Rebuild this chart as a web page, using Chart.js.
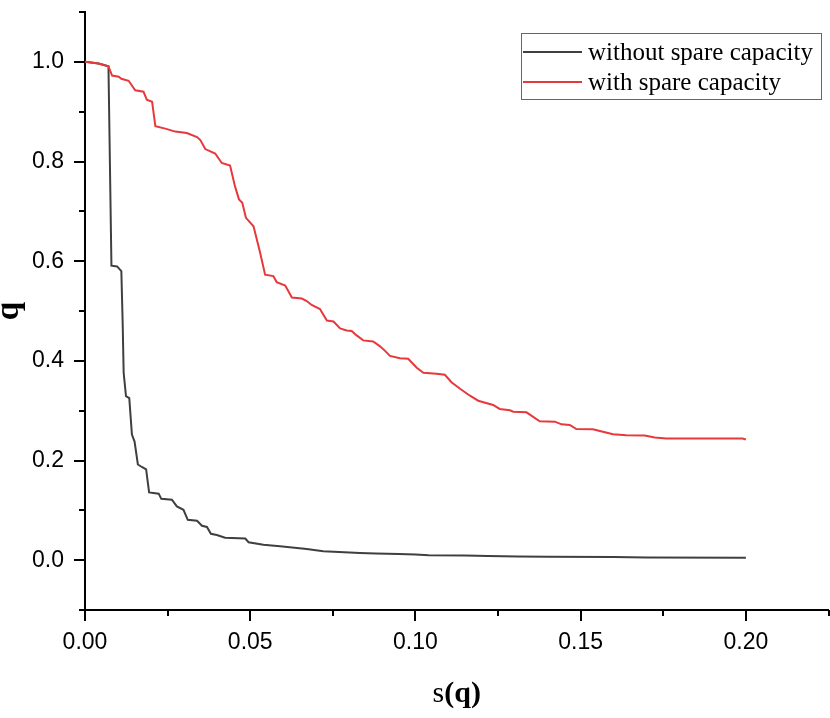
<!DOCTYPE html>
<html>
<head>
<meta charset="utf-8">
<script src="https://cdn.jsdelivr.net/npm/chart.js@4/dist/chart.umd.min.js"></script>
<style>
  html, body { margin: 0; padding: 0; background: #fff; }
  #wrap { position: relative; width: 830px; height: 718px; }
</style>
</head>
<body>
<div id="wrap"><canvas id="grafico"></canvas></div>
<script>
// series labels
const seriesNames = ['without spare capacity', 'with spare capacity'];

// without spare capacity: s(q) and q
const sWithout = [0, 0.0041, 0.0071, 0.0080, 0.0097, 0.0110, 0.0114, 0.0117, 0.0124, 0.0134,
  0.0142, 0.0150, 0.0160, 0.0172, 0.0185, 0.0194, 0.0223, 0.0231, 0.0263, 0.0278,
  0.0298, 0.0311, 0.0339, 0.0354, 0.0369, 0.0381, 0.0399, 0.0424, 0.0485, 0.0495,
  0.0540, 0.0590, 0.0671, 0.0721, 0.0832, 0.0880, 0.0950, 0.1000, 0.1040, 0.1150,
  0.1220, 0.1310, 0.1400, 0.1600, 0.1700, 0.2000];
const qWithout = [1.0, 0.9966, 0.991, 0.591, 0.5895, 0.580, 0.476, 0.376, 0.329, 0.325,
  0.252, 0.238, 0.192, 0.187, 0.182, 0.136, 0.1335, 0.123, 0.1214, 0.108,
  0.101, 0.081, 0.079, 0.069, 0.0666, 0.053, 0.0506, 0.045, 0.0435, 0.036,
  0.031, 0.0277, 0.0224, 0.0177, 0.0144, 0.0135, 0.0125, 0.0115, 0.0100, 0.0095,
  0.0085, 0.0075, 0.0070, 0.0065, 0.0055, 0.0050];

// with spare capacity: s(q) and q
const sWith = [0, 0.0041, 0.0071, 0.0082, 0.0102, 0.0110, 0.0132, 0.0152, 0.0177, 0.0187,
  0.0203, 0.0213, 0.0243, 0.0273, 0.0308, 0.0339, 0.0349, 0.0364, 0.0394, 0.0414,
  0.0439, 0.0454, 0.0466, 0.0476, 0.0487, 0.0510, 0.0530, 0.0545, 0.0570, 0.0580,
  0.0606, 0.0626, 0.0656, 0.0671, 0.0686, 0.0711, 0.0732, 0.0752, 0.0772, 0.0792,
  0.0807, 0.0822, 0.0842, 0.0872, 0.0893, 0.0908, 0.0923, 0.0953, 0.0978, 0.1004,
  0.1024, 0.1064, 0.1089, 0.1109, 0.1135, 0.1165, 0.1190, 0.1235, 0.1255, 0.1286,
  0.1296, 0.1336, 0.1376, 0.1422, 0.1442, 0.1467, 0.1487, 0.1537, 0.1558, 0.1598,
  0.1638, 0.1694, 0.1724, 0.1759, 0.1990, 0.2000];
const qWith = [1.0, 0.9966, 0.991, 0.9725, 0.970, 0.966, 0.962, 0.943, 0.940, 0.924,
  0.920, 0.871, 0.866, 0.860, 0.857, 0.849, 0.843, 0.825, 0.816, 0.797,
  0.792, 0.750, 0.724, 0.717, 0.687, 0.670, 0.617, 0.573, 0.570, 0.558,
  0.551, 0.527, 0.525, 0.520, 0.512, 0.504, 0.481, 0.479, 0.465, 0.461,
  0.460, 0.451, 0.441, 0.439, 0.429, 0.420, 0.410, 0.405, 0.404, 0.386,
  0.376, 0.374, 0.372, 0.357, 0.344, 0.330, 0.320, 0.3115, 0.3035, 0.3007,
  0.298, 0.2967, 0.2786, 0.278, 0.2726, 0.2714, 0.263, 0.2625, 0.2593, 0.2525,
  0.2505, 0.250, 0.246, 0.244, 0.244, 0.242];

const colorNegro = '#3f3f3f';
const colorRojo = '#e8383b';

function puntos(xs, ys) {
  return xs.map((x, i) => ({ x: x, y: ys[i] }));
}

const fuenteTicks = { family: 'Arial, "Liberation Sans", sans-serif', size: 23 };
const fuenteSerif = 'Times New Roman, "Liberation Serif", serif';

// ticks drawn by hand so major and minor can have different lengths
const marcasEjes = {
  id: 'marcasEjes',
  afterDraw(chart) {
    const ctx = chart.ctx;
    const area = chart.chartArea;
    const sx = chart.scales.x, sy = chart.scales.y;
    ctx.save();
    ctx.strokeStyle = '#000';
    ctx.lineWidth = 2;
    ctx.beginPath();
    sx.ticks.forEach(t => {
      const px = Math.round(sx.getPixelForValue(t.value));
      const mayor = Math.round(t.value * 1000) % 50 === 0;
      ctx.moveTo(px, area.bottom);
      ctx.lineTo(px, area.bottom + (mayor ? 11 : 6));
    });
    sy.ticks.forEach(t => {
      const py = Math.round(sy.getPixelForValue(t.value));
      const mayor = Math.round(t.value * 10) % 2 === 0;
      ctx.moveTo(area.left, py);
      ctx.lineTo(area.left - (mayor ? 11 : 6), py);
    });
    ctx.stroke();

    // x title: s(q) with bold q
    const partes = [
      { t: 's', f: 'normal 30px ' + fuenteSerif },
      { t: '(q)', f: 'bold 30px ' + fuenteSerif }
    ];
    let ancho = 0;
    partes.forEach(p => { ctx.font = p.f; p.w = ctx.measureText(p.t).width; ancho += p.w; });
    let x = (area.left + area.right) / 2 - ancho / 2;
    ctx.fillStyle = '#000';
    ctx.textBaseline = 'alphabetic';
    ctx.textAlign = 'left';
    partes.forEach(p => { ctx.font = p.f; ctx.fillText(p.t, x, 702); x += p.w; });

    // legend box
    const lx = 521, ly = 33, lw = 300, lh = 66;
    ctx.lineWidth = 1;
    ctx.strokeStyle = '#666';
    ctx.strokeRect(lx + 0.5, ly + 0.5, lw, lh);
    ctx.font = '25px ' + fuenteSerif;
    ctx.textBaseline = 'middle';
    chart.data.datasets.forEach((ds, i) => {
      const yy = 52 + i * 30;
      ctx.strokeStyle = ds.borderColor;
      ctx.lineWidth = 2;
      ctx.beginPath();
      ctx.moveTo(523, yy);
      ctx.lineTo(582, yy);
      ctx.stroke();
      ctx.fillStyle = '#000';
      ctx.fillText(ds.label, 588, yy + 1);
    });
    ctx.restore();
  }
};

const config = {
  type: 'line',
  data: {
    datasets: [
      {
        label: seriesNames[0],
        data: puntos(sWithout, qWithout),
        borderColor: colorNegro,
        backgroundColor: colorNegro,
        borderWidth: 2,
        pointRadius: 0,
        tension: 0,
        order: 2
      },
      {
        label: seriesNames[1],
        data: puntos(sWith, qWith),
        borderColor: colorRojo,
        backgroundColor: colorRojo,
        borderWidth: 2,
        pointRadius: 0,
        tension: 0,
        order: 1
      }
    ]
  },
  options: {
    responsive: true,
    maintainAspectRatio: false,
    animation: false,
    layout: { padding: { top: 12, right: 1.5, left: 0, bottom: 0 } },
    plugins: {
      legend: { display: false },
      tooltip: { enabled: false }
    },
    scales: {
      x: {
        type: 'linear',
        min: 0,
        max: 0.225,
        afterFit: s => { s.height = 108; s.paddingLeft = 0; s.paddingRight = 0; },
        border: { display: true, color: '#000', width: 2 },
        grid: { display: true, drawOnChartArea: false, drawTicks: true, tickLength: 11, tickColor: 'rgba(0,0,0,0)' },
        ticks: {
          stepSize: 0.025,
          autoSkip: false,
          maxRotation: 0,
          padding: 8,
          color: '#000',
          font: fuenteTicks,
          callback: v => (Math.round(v * 1000) % 50 === 0 ? v.toFixed(2) : '')
        },
        title: { display: false }
      },
      y: {
        type: 'linear',
        min: -0.1,
        max: 1.1,
        afterFit: s => { s.width = 85; s.paddingTop = 0; s.paddingBottom = 0; },
        border: { display: true, color: '#000', width: 2 },
        grid: { display: true, drawOnChartArea: false, drawTicks: true, tickLength: 11, tickColor: 'rgba(0,0,0,0)' },
        ticks: {
          stepSize: 0.1,
          autoSkip: false,
          padding: 10,
          color: '#000',
          font: fuenteTicks,
          callback: v => {
            const n = Math.round(v * 10);
            return (n % 2 === 0 && n >= 0 && n <= 10) ? (n / 10).toFixed(1) : '';
          }
        },
        title: {
          display: true,
          text: 'q',
          color: '#000',
          padding: 0,
          font: { family: fuenteSerif, size: 33, weight: 'bold', lineHeight: 0.6 }
        }
      }
    }
  },
  plugins: [marcasEjes]
};

const grafico = new Chart(document.getElementById('grafico').getContext('2d'), config);
</script>
</body>
</html>
